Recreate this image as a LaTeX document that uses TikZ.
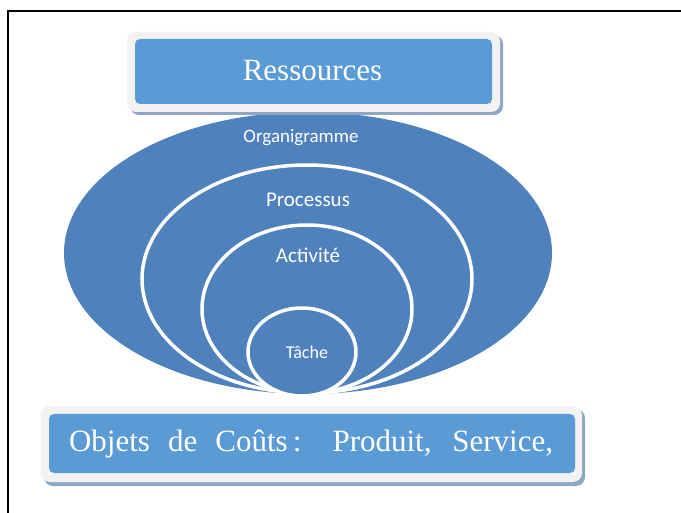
\documentclass[tikz,border=0pt]{standalone}
\usepackage{fontspec}
\setmainfont{Liberation Serif}
\newfontfamily\carlito{Carlito}
\definecolor{ellblue}{HTML}{4F81BD}
\definecolor{boxblue}{HTML}{5B9BD5}
\definecolor{rimgrey}{HTML}{F2F2F2}
\definecolor{shadowblue}{HTML}{8FA7C4}
\tikzset{
  ring/.style={draw=white, line width=3.5pt, fill=ellblue},
  elltext/.style={text=white, inner sep=0pt, anchor=base, font=\carlito},
  boxtext/.style={text=white, inner sep=0pt, anchor=base},
  boxshadow/.style={fill=shadowblue, rounded corners=9pt},
  boxrim/.style={fill=rimgrey, rounded corners=9pt},
  boxface/.style={fill=boxblue, rounded corners=5pt}
}
\begin{document}
\begin{tikzpicture}[x=1pt,y=-1pt]
\useasboundingbox (0,0) rectangle (681,513);
\fill[white] (0,0) rectangle (681,513);
\draw[line width=2pt] (8,520) -- (8,11) -- (690,11);
% ellipses
\fill[ellblue] (308,253) ellipse [x radius=244pt, y radius=141pt];
\draw[ring] (307,279) ellipse [x radius=165pt, y radius=114pt];
\draw[ring] (307,309) ellipse [x radius=105pt, y radius=84pt];
\draw[ring] (302,352) ellipse [x radius=54pt, y radius=44pt];
\node[elltext] (org) at (301,143) {\fontsize{19}{23}\selectfont Organigramme};
\node[elltext] (proc) at (308,207) {\fontsize{21}{25}\selectfont Processus};
\node[elltext] (act) at (308,263) {\fontsize{21}{25}\selectfont Activité};
\node[elltext] (tache) at (307,359) {\fontsize{18}{22}\selectfont Tâche};
% top box
\fill[boxshadow] (130,35) rectangle (503,115);
\fill[boxrim] (127,32) rectangle (500,112);
\fill[boxface] (135,39) rectangle (492,104);
\node[boxtext] (res) at (312.5,81) {\fontsize{31}{36}\selectfont Ressources};
% bottom box
\fill[boxshadow] (44,409) rectangle (585,486);
\fill[boxrim] (41,406) rectangle (582,482);
\fill[boxface] (49,414) rectangle (575,473);
\node[boxtext] (obj) at (311,452) {\fontsize{31}{36}\selectfont\makebox[484pt][s]{Objets de Coûts\hspace{5pt}: Produit, Service,}};
\end{tikzpicture}
\end{document}
